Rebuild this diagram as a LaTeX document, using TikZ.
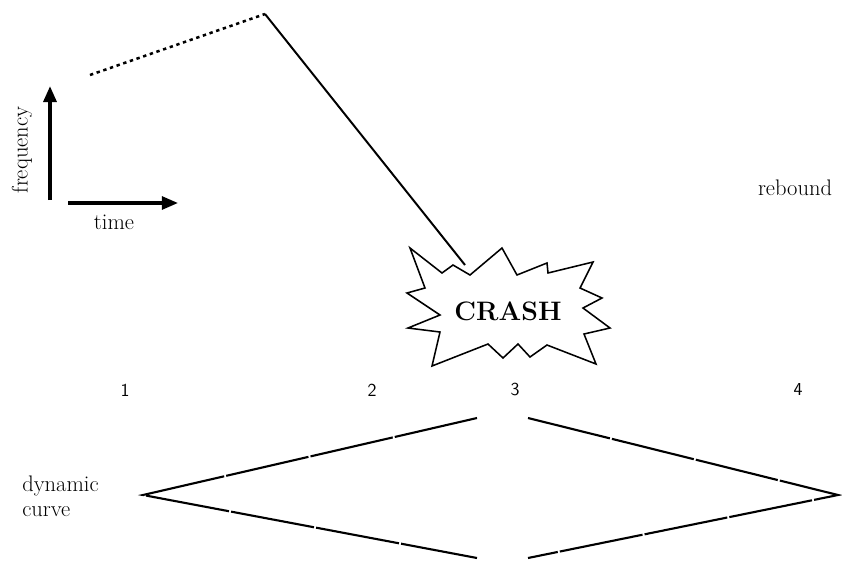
\documentclass[tikz,border=0pt]{standalone}
\usepackage{tikz}
\usetikzlibrary{arrows.meta}

\begin{document}
\begin{tikzpicture}[
    x=0.025cm, y=-0.025cm,
    label/.style={font=\fontsize{16}{18}\selectfont, inner sep=0pt},
    angka/.style={font=\sffamily\fontsize{13}{15}\selectfont, inner sep=0pt},
    sumbu/.style={-{Triangle[length=4mm, width=3.2mm]}, line width=2.6pt},
    kurva/.style={line width=1.5pt, dash pattern=on 60pt off 1.5pt}
  ]
    \useasboundingbox (0,0) rectangle (842,561);

    % axes
    \coordinate (asal) at (50,200);
    \coordinate (atas) at (50,86);
    \coordinate (kiri) at (68,203);
    \coordinate (kanan) at (178,203);
    \draw[sumbu] (asal) -- (atas);
    \draw[sumbu, line width=2.2pt] (kiri) -- (kanan);
    \node[label, rotate=90] (frek) at (22,150) {frequency};
    \node[label] (waktu) at (114,222) {time};

    % frequency path
    \coordinate (mulai) at (90,75);
    \coordinate (puncak) at (265,14);
    \coordinate (tabrak) at (465,265);
    \draw[line width=1.8pt, dash pattern=on 2.4pt off 2.6pt] (mulai) -- (puncak);
    \draw[line width=1.4pt] (puncak) -- (tabrak);

    % crash
    \draw[line width=1.1pt, fill=white]
      (410,248) -- (442,273) -- (453,265) -- (470,275) -- (502,248)
      -- (517,275) -- (547,263) -- (548,273) -- (593,262) -- (580,288)
      -- (602,298) -- (583,308) -- (610,328) -- (584,334) -- (596,364)
      -- (547,345) -- (530,357) -- (518,344) -- (503,358) -- (488,344)
      -- (432,366) -- (440,332) -- (408,328) -- (440,315) -- (407,293)
      -- (425,288) -- cycle;
    \node[font=\bfseries\fontsize{19}{21}\selectfont, inner sep=0pt] (crash) at (508,311) {CRASH};
    \node[label] (pantul) at (795,188) {rebound};

    % phases
    \node[angka] (f1) at (125,390) {1};
    \node[angka] (f2) at (372,390) {2};
    \node[angka] (f3) at (515,390) {3};
    \node[angka] (f4) at (798,390) {4};

    % dynamic curve
    \coordinate (kiriD) at (143,495);
    \coordinate (atasA) at (477,418);
    \coordinate (atasB) at (528,418);
    \coordinate (kananD) at (838,495);
    \coordinate (bawahA) at (477,558);
    \coordinate (bawahB) at (528,558);
    \draw[kurva] (atasA) -- (kiriD) -- (bawahA);
    \draw[kurva] (atasB) -- (kananD) -- (bawahB);
    \node[label, align=left, anchor=west] (dinamis) at (22,496) {dynamic\\curve};
  \end{tikzpicture}
\end{document}
